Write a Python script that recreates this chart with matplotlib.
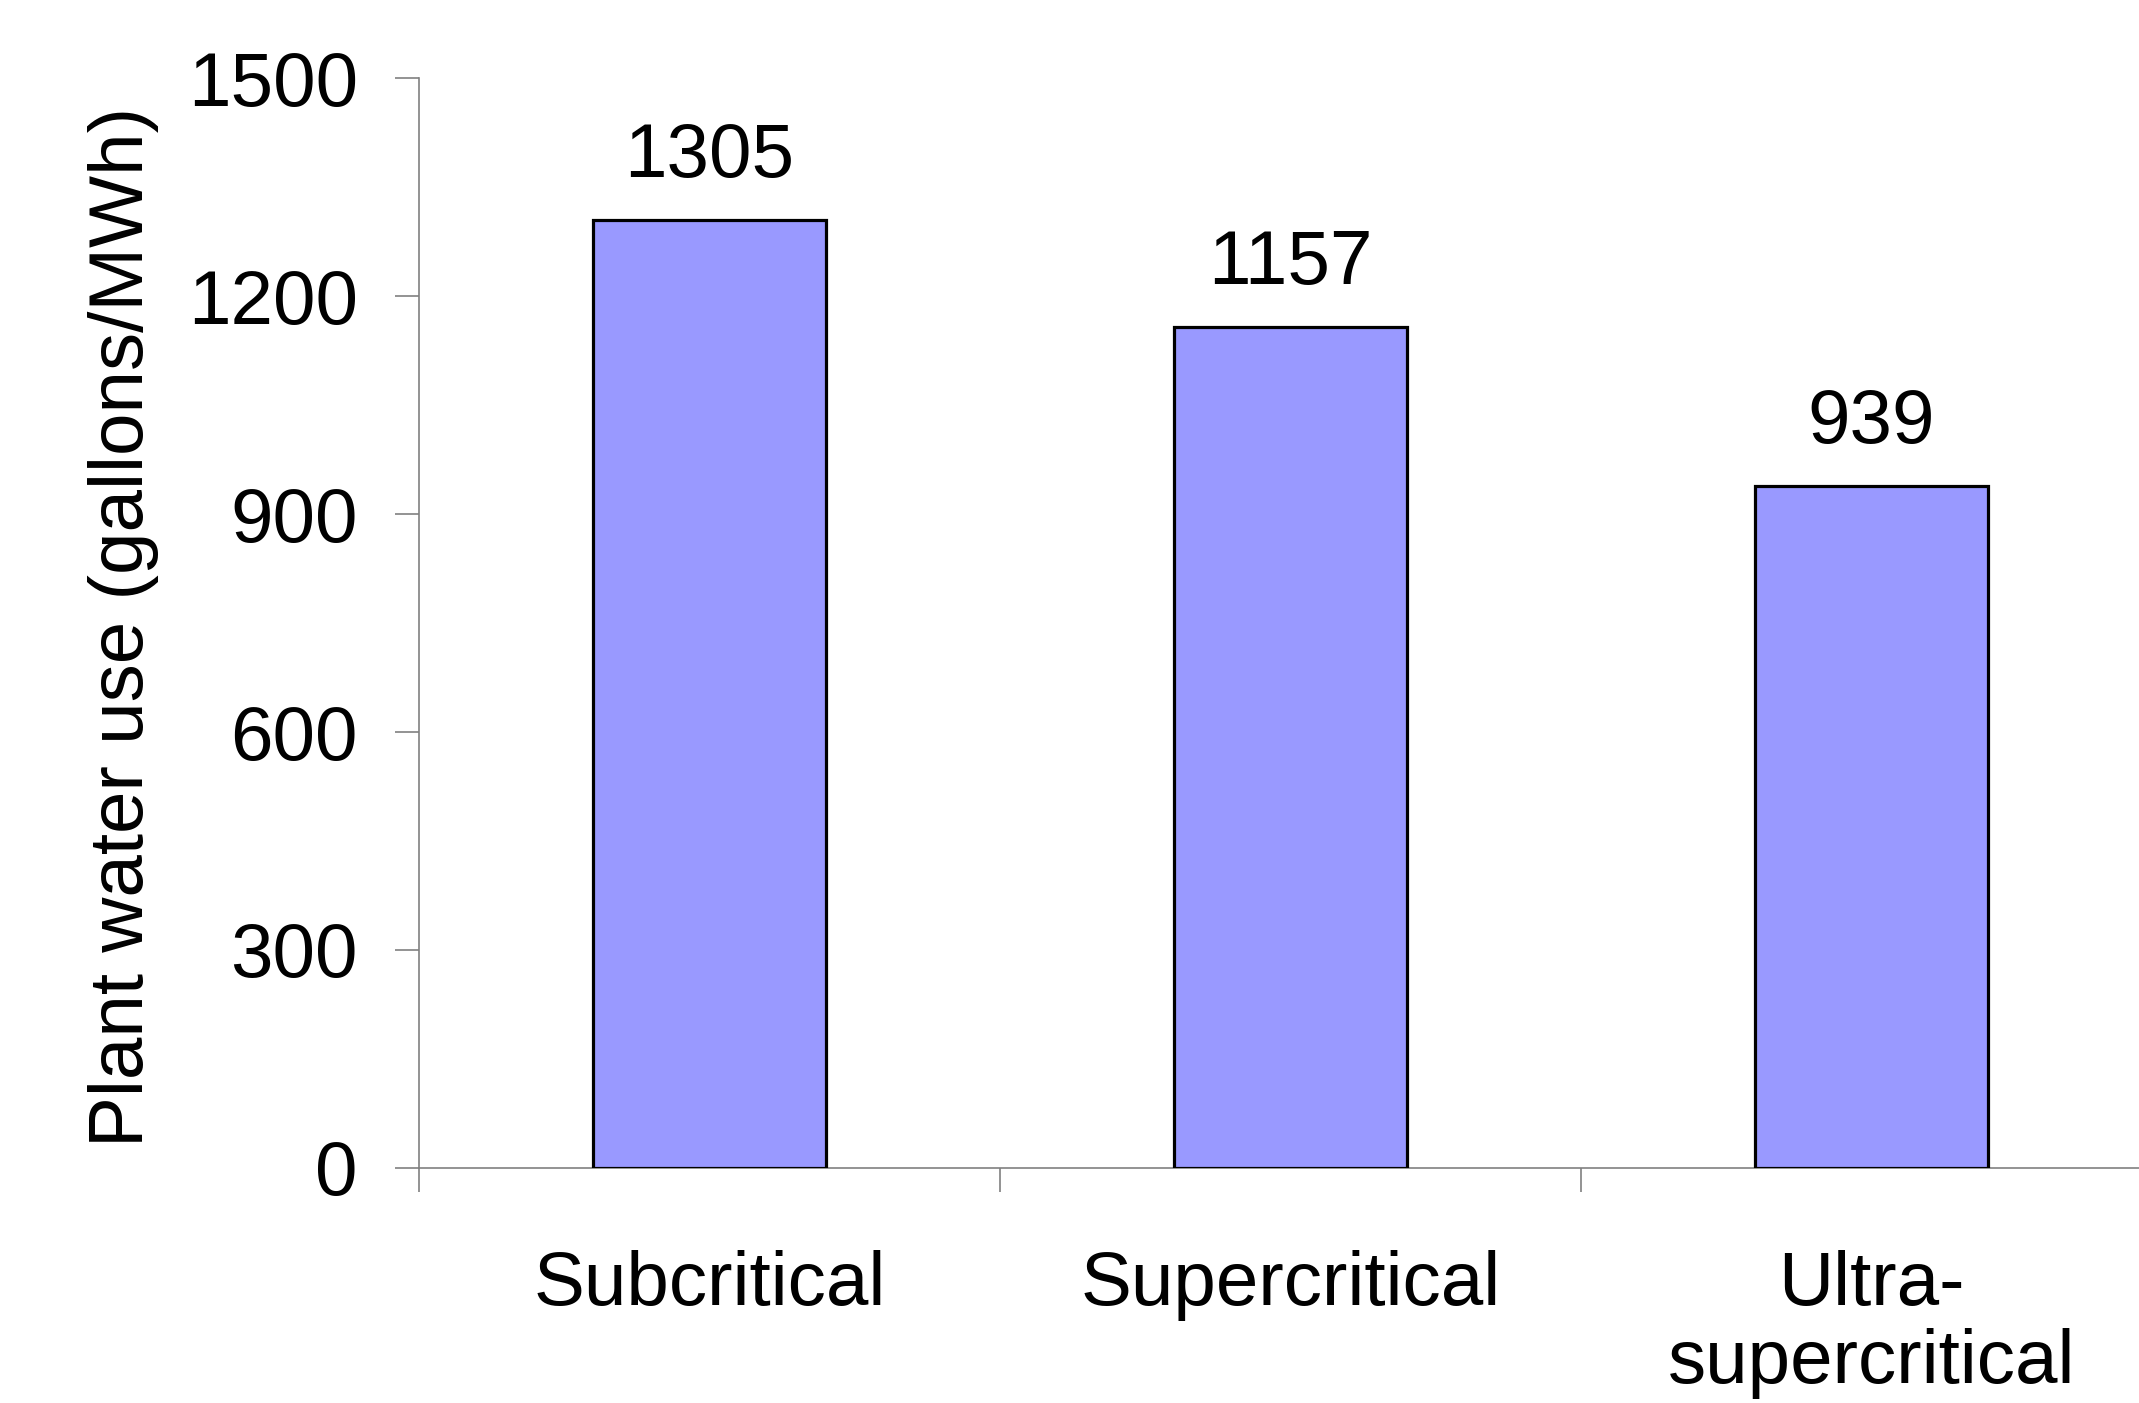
import matplotlib
matplotlib.use("Agg")
import matplotlib.pyplot as plt

categories = ["Subcritical", "Supercritical", "Ultra-\nsupercritical"]
water_use = [1305, 1157, 939]
y_ticks = [0, 300, 600, 900, 1200, 1500]

plt.rcParams["font.family"] = ["Liberation Sans", "DejaVu Sans"]
FS = 55

fig = plt.figure(figsize=(21.39, 14.03), dpi=100)
ax = fig.add_axes([0.1959, 0.1675, 0.8149, 0.7769])

x = list(range(len(categories)))
bars = ax.bar(x, water_use, width=0.4, color="#9999FF",
              edgecolor="black", linewidth=2.3, zorder=3)

for xi, v in zip(x, water_use):
    ax.annotate(f"{v}", xy=(xi, v), xytext=(0, 31), textcoords="offset points",
                ha="center", va="baseline", fontsize=FS)

ax.set_xlim(-0.5, len(categories) - 0.5)
ax.set_ylim(0, 1500)
ax.set_yticks(y_ticks)
ax.set_yticklabels([str(t) for t in y_ticks], fontsize=FS)

# Category boundaries carry the tick marks; names sit at the centres
ax.set_xticks([i - 0.5 for i in range(len(categories) + 1)])
ax.set_xticklabels([])
ax.set_xticks(x, minor=True)
ax.set_xticklabels(categories, minor=True, fontsize=FS, linespacing=1.13)
ax.tick_params(axis="x", which="minor", length=0, pad=59)
ax.tick_params(axis="x", which="major", length=17, width=1.2,
               color="#808080", direction="out")
ax.tick_params(axis="y", length=17, width=1.2, color="#808080",
               direction="out", pad=27)

for side in ("top", "right"):
    ax.spines[side].set_visible(False)
for side in ("left", "bottom"):
    ax.spines[side].set_color("#808080")
    ax.spines[side].set_linewidth(1.2)

ax.set_ylabel("Plant water use (gallons/MWh)", fontsize=FS)
ax.yaxis.set_label_coords(-0.1494, 0.496)

fig.savefig("out.png", dpi=100, facecolor="white")
